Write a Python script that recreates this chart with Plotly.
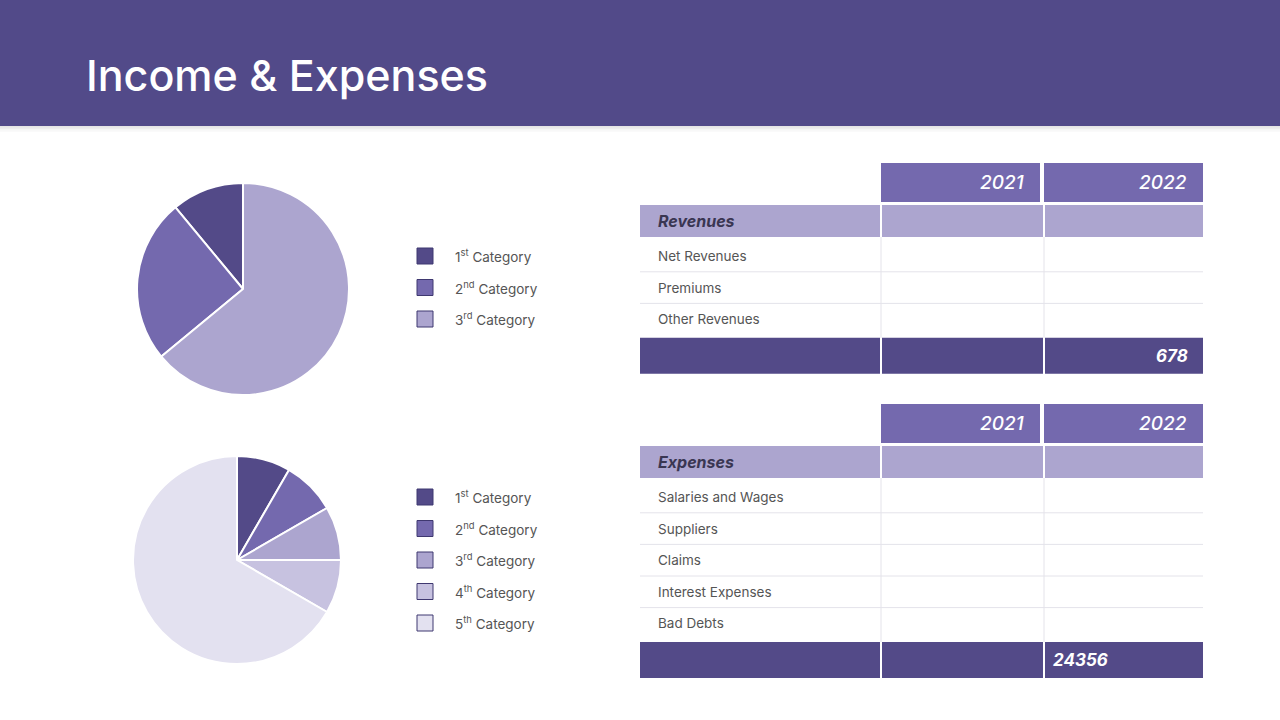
import plotly.graph_objects as go

# ---------------- data ----------------
pie1_labels = ["1<sup>st</sup> Category", "2<sup>nd</sup> Category", "3<sup>rd</sup> Category"]
pie1_values = [11, 25, 64]
pie2_labels = ["1<sup>st</sup> Category", "2<sup>nd</sup> Category", "3<sup>rd</sup> Category",
               "4<sup>th</sup> Category", "5<sup>th</sup> Category"]
pie2_values = [10, 10, 10, 10, 80]

years = ["2021", "2022"]
rev_section = "Revenues"
rev_items = ["Net Revenues", "Premiums", "Other Revenues"]
rev_totals = ["", "678"]
exp_section = "Expenses"
exp_items = ["Salaries and Wages", "Suppliers", "Claims", "Interest Expenses", "Bad Debts"]
exp_totals = ["", "24356"]

title = "Income & Expenses"

# ---------------- style ----------------
DARK = "#534A88"
MID = "#7469AE"
LIGHT = "#ACA5CF"
LIGHTER = "#C7C2E0"
LIGHTEST = "#E3E1F0"
pie1_colors = [DARK, MID, LIGHT]
pie2_colors = [DARK, MID, LIGHT, LIGHTER, LIGHTEST]
FONT = "Inter"
TXT = "#555555"
GRID = "#E4E3EA"

W, H = 1280, 720
fig = go.Figure()

shapes = []
ann = []

# header band + soft shadow
shapes.append(dict(type="rect", xref="x", yref="y", x0=0, x1=W, y0=0, y1=126,
                   fillcolor="#524A89", line_width=0, layer="below"))
for i, op in enumerate([0.10, 0.07, 0.04, 0.02]):
    shapes.append(dict(type="rect", xref="x", yref="y", x0=0, x1=W, y0=126 + i * 1.5, y1=127.5 + i * 1.5,
                       fillcolor="#000000", opacity=op, line_width=0, layer="below"))
ann.append(dict(x=84, y=75, xref="x", yref="y", text=title, showarrow=False, xanchor="left",
                yanchor="middle", font=dict(family=FONT, size=43, color="white", weight=500)))

# pies
def px_domain(cx, cy, r):
    return dict(x=[(cx - r) / W, (cx + r) / W], y=[(H - cy - r) / H, (H - cy + r) / H])

rot1 = -360.0 * pie1_values[0] / sum(pie1_values)
fig.add_trace(go.Pie(labels=pie1_labels, values=pie1_values, sort=False, direction="counterclockwise",
                     rotation=rot1, textinfo="none", hoverinfo="label+value",
                     marker=dict(colors=pie1_colors, line=dict(color="white", width=2)),
                     domain=px_domain(243, 289, 106), showlegend=False))
fig.add_trace(go.Pie(labels=pie2_labels, values=pie2_values, sort=False, direction="clockwise",
                     rotation=0, textinfo="none", hoverinfo="label+value",
                     marker=dict(colors=pie2_colors, line=dict(color="white", width=2)),
                     domain=px_domain(237, 560, 104), showlegend=False))

# custom legends
def legend(labels, colors, y0, step):
    for i, (lab, col) in enumerate(zip(labels, colors)):
        yc = y0 + i * step
        shapes.append(dict(type="rect", xref="x", yref="y", x0=417, x1=433, y0=yc - 8, y1=yc + 8,
                           fillcolor=col, line=dict(color="#3F3870", width=1)))
        ann.append(dict(x=453, y=yc, xref="x", yref="y", text=lab, showarrow=False, xanchor="left",
                        yanchor="middle", font=dict(family=FONT, size=13.5, color=TXT)))

legend(pie1_labels, pie1_colors, 256, 31.5)
legend(pie2_labels, pie2_colors, 497, 31.5)

# tables
X0, XA, XB, X1 = 640, 881, 1044, 1203
ROW = 31.6

def table(top, section, items, totals):
    # year headers
    for (a, b), yr in zip([(XA, XB - 4), (XB, X1)], years):
        shapes.append(dict(type="rect", xref="x", yref="y", x0=a, x1=b, y0=top, y1=top + 39,
                           fillcolor=MID, line_width=0))
        ann.append(dict(x=b - 14, y=top + 19.5, xref="x", yref="y", text=yr, showarrow=False,
                        xanchor="right", yanchor="middle",
                        font=dict(family=FONT, size=19, color="white", style="italic", weight=500)))
    # section row
    st, sb = top + 42, top + 74
    for a, b in [(X0, XA - 1), (XA + 1, XB - 1), (XB + 1, X1)]:
        shapes.append(dict(type="rect", xref="x", yref="y", x0=a, x1=b, y0=st, y1=sb,
                           fillcolor=LIGHT, line_width=0))
    ann.append(dict(x=656, y=(st + sb) / 2, xref="x", yref="y", text="<b><i>" + section + "</i></b>",
                    showarrow=False, xanchor="left", yanchor="middle",
                    font=dict(family=FONT, size=16, color="#3A3652")))
    # items
    first_c = top + 93
    for i, it in enumerate(items):
        yc = first_c + i * ROW
        ann.append(dict(x=656, y=yc, xref="x", yref="y", text=it, showarrow=False, xanchor="left",
                        yanchor="middle", font=dict(family=FONT, size=13.5, color=TXT)))
        if i < len(items) - 1:
            shapes.append(dict(type="line", xref="x", yref="y", x0=X0, x1=X1, y0=yc + ROW / 2,
                               y1=yc + ROW / 2, line=dict(color=GRID, width=1)))
    ft = top + 80 + ROW * len(items)
    for x in (XA, XB):
        shapes.append(dict(type="line", xref="x", yref="y", x0=x, x1=x, y0=sb, y1=ft,
                           line=dict(color=GRID, width=1)))
    # footer
    cells = [(X0, XA - 1), (XA + 1, XB - 1), (XB + 1, X1)]
    for a, b in cells:
        shapes.append(dict(type="rect", xref="x", yref="y", x0=a, x1=b, y0=ft, y1=ft + 36,
                           fillcolor=DARK, line_width=0))
    return ft

ft1 = table(163, rev_section, rev_items, rev_totals)
ann.append(dict(x=X1 - 13, y=ft1 + 18, xref="x", yref="y", text="<b><i>" + rev_totals[1] + "</i></b>",
                showarrow=False, xanchor="right", yanchor="middle",
                font=dict(family=FONT, size=17, color="white")))
ft2 = table(404, exp_section, exp_items, exp_totals)
ann.append(dict(x=XB + 7, y=ft2 + 18, xref="x", yref="y", text="<b><i>" + exp_totals[1] + "</i></b>",
                showarrow=False, xanchor="left", yanchor="middle",
                font=dict(family=FONT, size=17, color="white")))

fig.update_layout(
    width=W, height=H, margin=dict(l=0, r=0, t=0, b=0),
    paper_bgcolor="white", plot_bgcolor="rgba(0,0,0,0)",
    xaxis=dict(range=[0, W], visible=False, fixedrange=True, domain=[0, 1]),
    yaxis=dict(range=[H, 0], visible=False, fixedrange=True, domain=[0, 1]),
    shapes=shapes, annotations=ann, showlegend=False,
)
fig.write_html("out.html", config={"displayModeBar": False},
               post_script="document.body.style.margin='0';document.body.style.overflow='hidden';")
